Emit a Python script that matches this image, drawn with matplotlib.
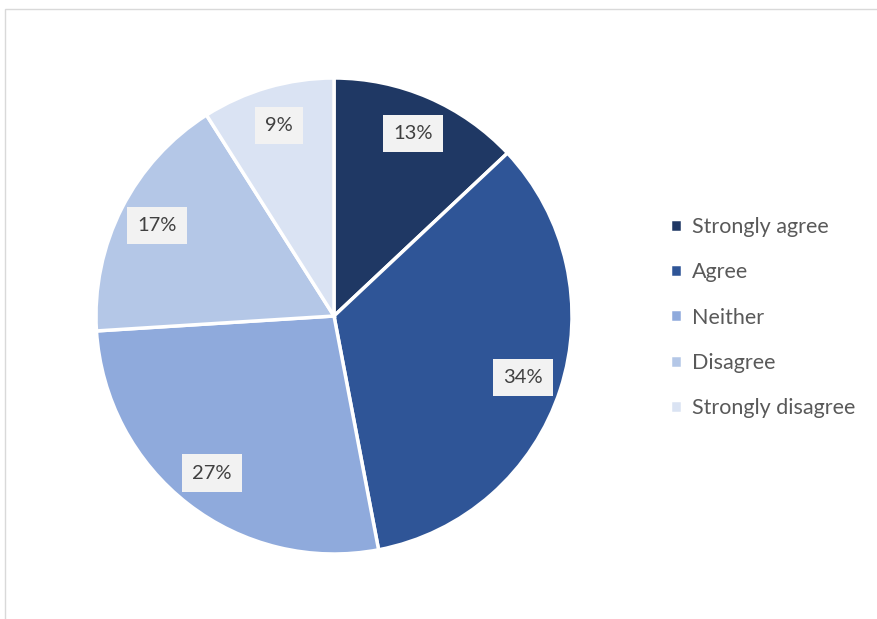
import matplotlib.pyplot as plt
from matplotlib.patches import Rectangle

categories = ["Strongly agree", "Agree", "Neither", "Disagree", "Strongly disagree"]
shares = [13, 34, 27, 17, 9]
colors = ["#1F3864", "#2F5597", "#8FAADC", "#B4C7E7", "#DAE3F3"]

plt.rcParams['font.family'] = ['Lato', 'DejaVu Sans']

fig = plt.figure(figsize=(8.77, 6.19), dpi=100)

# chart frame (runs off the right and bottom edges)
fig.patches.append(Rectangle((5 / 877, -0.05), 1.0, 1 - 9 / 619 + 0.05,
                             transform=fig.transFigure, fill=False,
                             edgecolor="#D9D9D9", linewidth=1.0))

# pie centred at (334, 316) px with radius ~238 px
r = 238
cx, cy = 334, 619 - 316
ax = fig.add_axes([(cx - r) / 877, (cy - r) / 619, 2 * r / 877, 2 * r / 619])

wedges, texts = ax.pie(shares, colors=colors, startangle=90, counterclock=False,
                       labels=[f"{v}%" for v in shares], labeldistance=0.835,
                       wedgeprops=dict(edgecolor="white", linewidth=2.5))
for t in texts:
    t.set_ha("center")
    t.set_va("center")
    t.set_fontsize(14.5)
    t.set_color("#404040")
    t.set_bbox(dict(boxstyle="square,pad=0.5", facecolor="#F2F2F2", edgecolor="none"))
ax.set_xlim(-1, 1)
ax.set_ylim(-1, 1)
ax.set_aspect("equal")

fig.legend(wedges, categories, loc="center left", bbox_to_anchor=(0.742, 0.487),
           frameon=False, fontsize=15.5, labelcolor="#595959",
           handlelength=0.55, handleheight=0.55, handletextpad=0.45,
           labelspacing=1.18)

fig.savefig("out.png", dpi=100)
